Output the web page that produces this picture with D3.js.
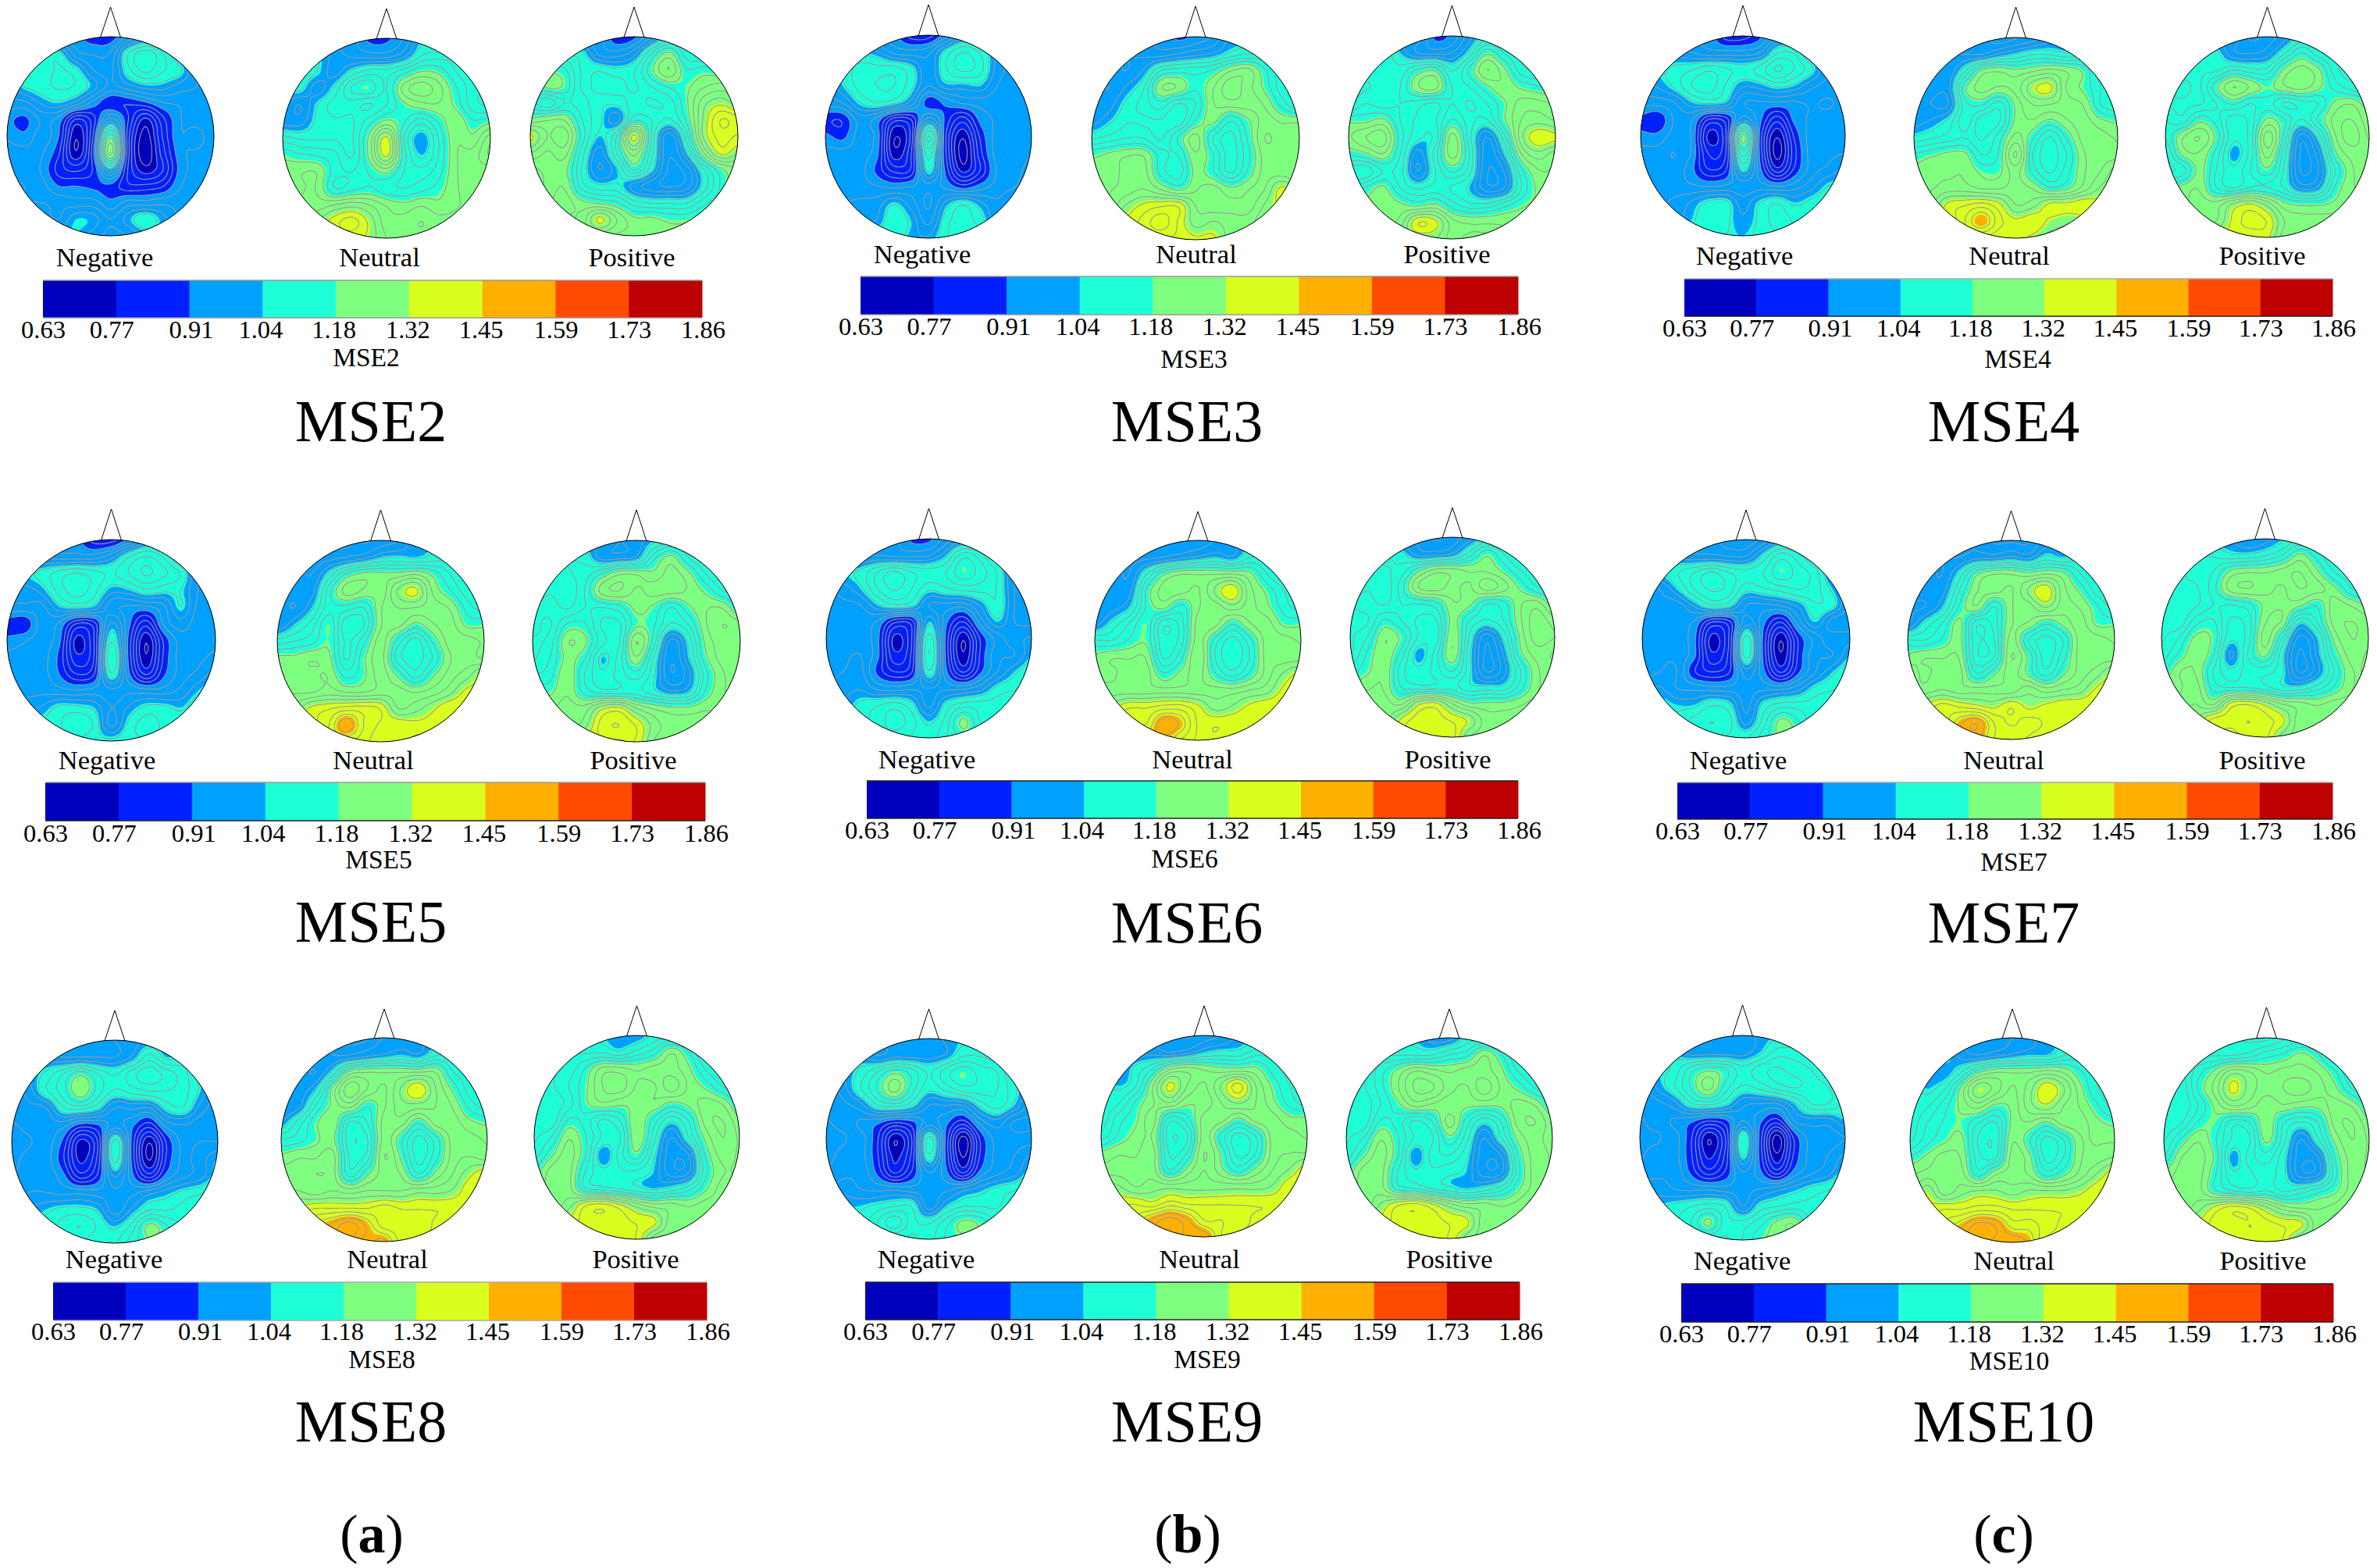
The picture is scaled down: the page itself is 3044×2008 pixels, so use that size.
<!DOCTYPE html>
<html><head><meta charset="utf-8">
<script src="https://d3js.org/d3.v7.min.js"></script>
<style>html,body{margin:0;padding:0;background:#fff}svg{display:block}text{font-family:"Liberation Serif",serif;fill:#000}</style>
</head><body><svg id="c" width="3044" height="2008"></svg>
<script>
// Band edges and colour-bar labels
const bandEdges=[0.63,0.77,0.91,1.04,1.18,1.32,1.45,1.59,1.73,1.86];
const tickLabels=["0.63","0.77","0.91","1.04","1.18","1.32","1.45","1.59","1.73","1.86"];
const bandColors=["#0000bd","#0020ff","#00a0ff","#1effd8","#7fff7f","#d8ff1e","#ffb000","#ff4a00","#bd0000"];
const conditions=["Negative","Neutral","Positive"];
const panelNames=["MSE2","MSE3","MSE4","MSE5","MSE6","MSE7","MSE8","MSE9","MSE10"];

// Scalp values (x100) on a 13x13 lattice; rows are centred, outer rows cover only the head
const mse2Negative=[[92,89,89,95,100],[106,106,96,94,95,108,114,109,100],[106,106,109,106,98,97,107,113,109,106,98],
[100,105,107,109,108,103,97,100,103,103,100,98,97],[97,97,102,104,100,93,88,88,90,94,95,96,97],[92,90,95,93,80,86,100,88,76,86,94,96,97],
[94,92,96,91,74,88,118,86,72,84,94,93,97],[96,96,95,88,74,90,124,86,71,82,93,95,96],[97,97,94,86,83,88,104,84,75,80,92,96,97],
[98,98,96,91,91,90,90,85,85,87,94,97,98],[98,98,97,96,96,92,96,96,97,97,98],[100,98,104,103,98,103,108,103,98],[104,100,97,98,102]];
const mse2Neutral=[[96,90,90,95,104],[104,100,97,96,96,100,108,110,110],[108,105,100,106,110,110,114,119,118,112,110],
[106,106,100,106,116,118,112,124,128,124,116,110,108],[102,98,105,110,110,108,112,118,121,122,118,110,108],[100,100,106,108,108,114,120,116,110,116,122,116,118],
[110,108,108,108,108,120,134,112,102,112,122,120,128],[118,116,115,113,108,120,134,114,104,112,122,124,130],[120,122,122,114,112,116,120,112,110,114,122,124,124],
[120,122,122,112,114,116,113,112,114,117,122,124,124],[124,124,126,128,126,122,120,122,120,122,124],[130,135,138,132,124,124,126,124,124],[134,132,126,126,125]];
const mse2Positive=[[96,88,90,98,106],[108,106,97,96,100,112,120,110,108],[118,116,108,108,106,108,118,126,116,117,116],
[112,120,118,108,110,110,108,112,116,118,122,124,122],[110,106,112,110,106,106,110,108,110,118,128,132,128],[120,122,122,112,106,100,114,112,108,116,130,140,138],
[134,126,128,114,104,112,134,112,96,110,130,138,136],[126,122,124,110,100,112,124,110,95,104,122,134,130],[118,120,120,108,98,104,116,106,94,96,108,118,122],
[116,120,122,110,106,106,100,96,94,96,106,116,122],[122,124,120,118,116,110,108,108,108,114,118],[122,124,134,126,120,120,118,118,120],[124,122,122,122,120]];
const mse3Negative=[[92,86,86,93,100],[104,102,97,96,97,106,112,108,101],[106,110,110,110,106,99,108,113,110,100,97],
[98,104,110,112,112,106,98,103,103,104,98,97,97],[96,98,105,108,106,100,89,92,95,96,96,96,97],[88,88,96,93,82,84,100,90,82,92,95,96,97],
[92,90,96,93,74,82,116,88,74,88,96,96,97],[96,96,96,92,75,84,110,88,72,86,96,96,98],[97,97,96,90,83,85,106,90,76,84,95,97,99],
[97,97,96,95,94,95,96,94,90,93,96,98,100],[98,99,100,105,100,94,103,108,103,99,103],[100,102,108,104,97,107,110,107,100],[108,103,102,108,110]];
const mse3Neutral=[[94,90,92,95,102],[98,97,96,98,100,102,106,108,108],[100,98,102,112,114,114,116,122,124,116,110],
[100,98,102,108,122,122,116,122,128,124,118,110,108],[98,100,106,110,114,108,112,122,124,124,122,114,108],[100,104,108,108,108,106,116,120,112,118,124,122,122],
[108,110,112,112,108,116,124,112,107,116,126,124,124],[118,120,122,122,114,112,122,116,107,114,124,124,126],[120,120,124,124,114,110,120,116,108,116,124,124,122],
[120,122,124,126,122,118,122,124,120,122,126,134,128],[124,130,134,136,136,126,124,124,124,130,134],[134,138,142,136,128,130,128,128,132],[136,136,134,134,128]];
const mse3Positive=[[100,90,92,100,106],[110,104,98,97,98,106,118,112,108],[110,112,110,116,118,108,116,126,120,110,108],
[106,108,110,112,122,124,112,112,118,122,118,116,114],[108,112,110,112,110,108,112,108,112,118,124,124,122],[118,118,120,112,108,108,116,110,108,118,126,128,126],
[122,126,128,114,106,106,124,110,98,110,128,136,134],[116,118,122,112,100,110,124,112,96,104,122,128,124],[106,106,112,110,98,108,116,110,95,98,114,122,122],
[112,116,120,112,108,110,108,104,96,98,112,120,122],[120,122,120,118,120,114,110,110,114,118,120],[122,124,136,134,124,122,122,122,122],[130,130,124,122,122]];
const mse4Negative=[[93,86,86,90,98],[100,98,96,96,96,98,108,108,100],[104,106,108,111,109,107,110,116,112,106,98],
[100,102,106,112,114,108,102,103,106,104,99,97,97],[96,96,98,104,106,104,95,94,94,94,95,94,96],[90,88,95,95,84,86,100,92,82,92,95,96,97],
[92,92,96,94,76,84,120,90,74,88,96,96,98],[96,96,98,94,80,84,114,90,72,86,96,97,98],[97,97,97,92,84,87,106,92,78,88,96,99,102],
[97,97,96,95,94,95,96,96,94,96,100,105,106],[97,99,102,106,106,100,105,108,104,106,108],[100,104,108,106,102,106,110,108,106],[106,105,104,106,108]];
const mse4Neutral=[[96,92,94,96,100],[98,98,98,102,105,108,108,106,108],[100,99,108,120,122,120,122,124,122,118,110],
[102,100,100,118,124,122,124,132,134,122,118,112,108],[100,98,98,114,116,110,120,126,126,124,122,112,108],[100,102,106,114,106,108,120,122,118,122,124,120,118],
[106,108,110,112,108,114,124,116,108,116,124,124,122],[116,118,120,120,112,116,130,112,107,112,122,124,124],[120,122,122,122,118,118,124,114,108,114,122,126,132],
[120,122,124,124,122,122,124,122,116,118,124,130,132],[126,134,136,138,134,126,128,134,134,136,134],[134,140,147,138,134,136,132,130,130],[136,134,134,132,128]];
const mse4Positive=[[100,94,96,100,106],[108,106,99,98,100,108,116,110,108],[106,108,108,112,110,110,120,124,120,110,106],
[108,110,108,118,126,122,118,122,124,120,114,110,108],[108,108,108,112,116,112,114,108,110,112,120,122,116],[112,110,118,114,106,110,120,116,108,116,124,126,120],
[112,122,126,118,106,110,128,114,96,106,122,128,122],[108,120,122,114,103,110,124,110,94,100,118,124,124],[108,110,120,112,106,112,118,108,94,98,112,122,124],
[116,120,122,112,108,112,112,108,100,102,116,122,124],[122,124,124,130,133,128,120,118,118,120,122],[124,126,134,138,136,126,124,124,124],[134,134,134,124,124]];
const mse5Negative=[[92,86,86,92,100],[97,96,96,96,100,108,112,108,100],[104,106,110,112,110,108,112,116,113,108,98],
[100,100,103,110,114,110,103,104,108,106,105,98,97],[97,97,97,104,106,104,96,94,94,97,105,97,97],[89,88,96,94,84,86,102,92,82,95,100,96,96],
[92,94,96,92,76,84,108,90,74,88,96,96,97],[96,96,96,90,78,84,112,90,74,88,96,97,99],[97,97,96,91,84,87,108,92,80,90,96,99,103],
[97,97,97,96,95,96,97,97,96,96,99,104,108],[100,102,106,106,104,98,102,106,106,104,108],[106,108,112,108,97,106,110,108,108],[108,106,106,108,108]];
const mse5Neutral=[[100,94,96,98,104],[96,97,98,100,104,105,104,106,108],[100,98,106,116,120,120,120,122,118,112,108],
[100,100,100,114,124,122,120,130,134,122,116,110,108],[100,98,104,114,114,112,122,126,126,124,122,114,110],[98,104,110,118,106,108,122,124,118,122,124,118,118],
[110,112,114,118,108,114,124,114,107,116,124,124,122],[120,120,122,120,108,118,124,110,107,112,122,124,122],[122,122,122,122,114,118,124,118,110,118,124,128,134],
[122,122,122,124,122,122,124,124,122,124,128,134,134],[128,134,136,138,138,136,126,128,132,136,136],[136,140,150,140,136,136,134,134,132],[140,138,134,134,132]];
const mse5Positive=[[102,98,100,104,108],[108,107,100,100,102,114,120,112,108],[106,108,110,116,122,122,120,124,120,112,108],
[106,108,106,112,124,126,122,124,124,122,118,112,110],[108,110,108,112,112,114,120,118,112,118,122,122,114],[110,108,116,116,108,108,118,116,108,112,122,126,124],
[108,110,122,120,110,108,126,114,97,106,120,124,124],[108,112,120,116,104,110,122,108,95,104,118,124,124],[112,114,122,112,106,110,114,106,95,100,114,122,124],
[118,118,122,114,110,110,110,106,102,104,116,122,124],[122,124,124,132,134,126,122,120,120,122,122],[124,128,138,140,136,128,124,124,124],[136,136,136,126,124]];
const mse6Negative=[[96,90,90,96,100],[97,98,97,97,98,104,114,110,102],[104,106,112,116,112,110,112,118,114,108,98],
[98,100,104,112,116,112,106,108,110,110,108,98,96],[96,97,98,104,108,106,98,97,96,102,108,98,96],[95,96,96,94,85,86,104,92,84,96,104,98,97],
[96,95,96,92,76,84,110,90,74,88,96,100,102],[96,97,98,92,78,85,112,90,74,88,97,98,104],[97,98,99,90,84,87,108,92,80,90,98,104,108],
[98,100,101,97,96,97,98,97,97,100,106,108,110],[102,106,108,110,106,97,106,110,110,110,112],[108,110,114,110,104,110,120,112,110],[110,108,106,112,116]];
const mse6Neutral=[[98,96,96,98,102],[97,97,98,100,102,104,102,108,108],[100,98,108,118,122,122,122,122,120,112,108],
[100,100,100,116,124,124,122,130,136,124,118,112,108],[98,100,104,116,120,114,122,124,128,124,120,114,110],[100,106,112,118,106,110,124,124,116,122,124,118,118],
[112,112,116,118,106,110,124,114,107,114,124,124,122],[120,122,122,122,108,114,126,112,106,112,124,124,124],[122,122,124,124,116,120,124,116,110,116,124,130,134],
[124,124,124,124,124,124,124,124,124,126,128,134,136],[132,136,136,138,138,134,128,130,134,136,136],[140,140,150,146,136,136,136,136,134],[146,140,136,136,134]];
const mse6Positive=[[98,94,96,100,106],[108,106,100,100,102,110,118,112,106],[106,108,110,118,124,124,122,122,118,112,108],
[106,108,106,114,126,128,124,122,128,124,118,112,110],[108,110,108,112,112,114,122,120,112,114,122,124,116],[108,108,116,112,108,108,120,112,108,112,122,128,124],
[108,112,122,118,108,106,122,108,96,106,120,128,126],[108,116,122,114,103,110,122,106,94,102,118,124,122],[114,118,122,110,106,110,116,106,94,100,112,122,124],
[120,122,122,112,110,110,110,106,106,106,114,122,124],[124,124,122,132,134,126,120,120,120,122,124],[124,134,138,138,136,132,124,124,124],[136,138,138,126,124]];
const mse7Negative=[[96,92,92,96,102],[100,99,99,98,98,106,114,110,104],[104,108,112,116,112,110,112,118,114,110,100],
[96,98,104,112,116,114,106,108,110,112,110,104,97],[96,97,96,102,108,106,98,97,98,102,108,106,97],[95,96,96,94,84,86,100,92,84,96,104,96,96],
[96,95,96,92,76,84,110,90,74,88,96,100,100],[96,97,97,92,78,85,110,90,74,88,97,98,104],[96,98,98,88,84,87,100,92,80,90,98,104,108],
[100,102,98,97,96,96,97,97,97,100,106,108,110],[106,104,104,108,106,97,106,110,110,110,112],[106,110,112,110,100,110,120,116,110],[110,108,108,114,120]];
const mse7Neutral=[[98,94,94,94,100],[98,98,100,100,102,100,106,104,108],[100,98,106,118,122,122,120,122,120,112,108],
[100,100,100,112,122,124,122,130,136,124,118,110,108],[98,98,104,116,122,112,122,124,130,124,122,116,110],[98,106,112,120,106,110,122,122,116,120,124,118,118],
[112,112,116,120,106,108,124,112,107,112,124,124,122],[120,122,122,122,106,108,126,118,107,114,124,124,124],[124,122,124,124,112,118,124,118,110,118,124,128,134],
[124,124,126,124,124,124,124,128,124,126,128,134,136],[134,138,136,134,132,136,132,134,136,136,136],[138,146,150,140,136,138,136,134,132],[148,140,140,136,134]];
const mse7Positive=[[102,98,100,104,108],[108,108,106,106,108,112,120,114,108],[108,110,112,120,122,122,124,126,120,112,110],
[108,108,108,114,124,126,124,122,126,124,120,112,110],[108,106,108,112,112,114,120,122,120,116,124,122,118],[108,106,114,116,108,110,122,122,106,112,124,126,124],
[108,112,120,118,106,110,124,112,97,104,120,126,124],[110,116,122,116,101,112,120,106,94,102,116,124,122],[114,122,122,112,106,110,110,106,94,100,112,122,122],
[122,122,124,114,112,112,110,106,106,110,116,122,124],[124,126,122,134,136,132,126,124,122,124,124],[130,138,138,140,138,134,124,124,124],[134,138,138,128,124]];
const mse8Negative=[[98,98,98,100,102],[100,98,98,98,98,102,110,104,106],[102,106,112,118,112,108,114,118,114,110,104],
[96,100,108,114,122,114,108,110,112,112,110,104,96],[96,97,98,108,110,106,98,99,98,106,108,100,96],[94,96,96,96,90,91,96,92,86,96,98,96,95],
[92,94,96,90,76,84,110,90,74,88,96,98,98],[93,96,96,88,76,85,110,90,73,88,96,100,104],[94,97,97,92,82,88,102,92,82,92,97,100,106],
[96,98,98,97,97,96,97,97,100,103,106,108,110],[102,104,106,106,104,96,102,108,108,110,112],[106,110,112,108,104,110,120,116,112],[108,106,108,114,118]];
const mse8Neutral=[[100,98,98,100,102],[102,98,98,100,102,104,102,108,108],[100,98,106,120,122,122,122,122,122,112,110],
[100,100,104,120,132,126,122,130,136,126,118,110,108],[98,100,112,120,124,116,122,128,128,126,122,114,110],[102,110,118,122,108,112,124,124,116,124,124,120,118],
[112,114,118,120,106,108,124,116,107,114,124,124,122],[120,122,122,124,108,110,126,118,107,114,124,126,124],[124,124,126,124,110,118,124,122,112,120,126,132,136],
[126,126,124,126,124,126,126,126,128,128,130,136,136],[134,136,136,136,136,138,136,136,136,136,136],[144,148,152,146,138,138,138,136,134],[150,146,148,138,136]];
const mse8Positive=[[104,102,102,106,108],[108,108,108,106,110,114,122,116,108],[108,110,116,124,124,122,124,124,120,112,108],
[108,108,112,118,126,128,122,122,128,122,118,112,108],[106,106,110,118,122,120,120,122,118,120,124,122,114],[108,106,116,114,108,112,122,114,106,112,124,126,120],
[108,112,122,116,108,108,122,110,98,108,120,126,122],[110,118,124,116,102,110,118,106,96,98,116,124,122],[116,124,124,112,106,108,108,104,96,97,114,122,122],
[120,124,124,112,110,108,106,104,106,110,118,124,124],[124,128,136,138,134,128,124,124,122,124,124],[134,138,138,138,136,134,124,124,124],[136,138,136,124,122]];
const mse9Negative=[[100,100,100,102,104],[102,98,100,100,100,102,108,108,106],[102,106,112,118,114,108,114,118,114,112,104],
[96,100,108,116,124,114,106,110,114,114,112,106,100],[96,97,100,108,110,106,98,98,98,106,110,104,96],[94,96,94,92,88,90,96,92,86,96,100,94,94],
[92,94,96,88,74,84,110,90,72,88,96,96,96],[93,96,96,88,76,85,108,90,73,88,96,98,102],[95,97,97,90,80,88,98,92,80,92,97,100,106],
[98,100,98,97,97,96,97,97,100,103,106,108,110],[104,104,106,108,108,96,104,108,108,108,112],[106,112,118,110,108,114,120,118,112],[108,108,110,116,118]];
const mse9Neutral=[[98,94,96,98,102],[100,100,98,100,104,106,106,110,110],[100,106,112,122,124,122,120,120,120,114,110],
[108,104,108,122,134,126,122,130,138,126,118,112,108],[106,108,116,122,126,120,120,126,130,126,120,114,110],[106,114,118,124,110,114,124,124,118,124,124,120,120],
[110,116,120,122,106,108,124,114,107,112,124,124,122],[120,122,122,124,108,112,126,118,107,112,124,126,126],[124,124,124,124,112,120,126,120,114,120,126,130,136],
[132,130,126,128,128,128,128,128,128,128,130,136,136],[136,136,134,138,136,136,136,136,136,136,136],[142,148,152,148,140,140,138,136,136],[152,150,150,140,136]];
const mse9Positive=[[104,100,100,106,108],[108,108,108,108,112,114,122,116,108],[108,114,120,126,124,122,124,124,120,112,108],
[108,108,114,122,130,130,124,122,128,122,118,112,108],[106,106,112,118,124,122,120,120,120,120,124,122,114],[108,106,116,114,108,112,124,114,106,112,124,126,120],
[108,112,122,116,108,108,118,110,98,108,120,124,120],[110,118,124,116,102,110,112,106,96,98,116,124,122],[116,124,124,112,106,108,106,104,96,97,114,124,122],
[120,124,124,114,112,108,106,104,106,110,118,124,124],[124,130,136,138,134,128,124,124,122,124,128],[134,138,138,138,136,134,124,124,126],[136,138,136,128,124]];
const mse10Negative=[[100,100,100,102,104],[104,100,100,100,100,104,110,110,108],[104,106,114,118,116,110,114,116,114,112,108],
[96,102,108,116,124,114,108,110,114,116,114,112,108],[96,97,100,108,110,106,99,98,98,104,112,112,108],[94,96,94,92,88,90,98,92,86,98,100,100,104],
[94,94,96,88,74,84,108,90,72,88,96,96,98],[94,96,96,88,76,85,106,90,74,88,96,98,102],[96,97,97,90,82,88,98,92,82,92,97,100,106],
[100,100,98,97,97,96,97,98,100,103,106,108,110],[104,106,108,110,108,98,106,108,110,110,112],[108,112,120,110,110,114,120,122,112],[108,108,112,118,120]];
const mse10Neutral=[[98,96,98,100,104],[106,100,98,100,102,104,104,108,110],[104,102,108,118,122,122,122,124,122,116,112],
[108,104,108,120,132,128,122,128,136,130,120,112,110],[106,108,114,120,124,118,120,128,132,126,122,116,110],[106,112,116,118,112,108,120,122,118,124,124,120,118],
[108,114,118,120,108,106,122,116,107,112,122,122,122],[116,120,124,122,110,108,124,120,107,112,122,124,126],[122,124,124,124,114,122,124,122,114,118,124,130,136],
[124,132,124,128,130,130,128,130,130,130,132,136,136],[134,136,136,138,138,136,136,136,136,136,136],[142,146,152,150,142,142,138,136,136],[152,150,150,146,136]];
const mse10Positive=[[106,104,104,108,110],[108,108,108,110,114,116,120,116,108],[108,114,120,128,126,122,124,124,122,116,108],
[110,106,116,124,134,128,124,126,128,124,120,112,108],[108,106,112,120,126,124,120,122,120,120,124,122,114],[106,108,116,118,110,112,122,112,108,112,124,126,120],
[108,116,122,116,108,108,120,110,98,108,120,126,122],[112,122,124,118,103,110,114,106,96,98,116,124,122],[120,124,124,116,106,108,110,106,96,97,114,124,122],
[122,124,124,116,112,110,112,108,110,114,118,124,124],[124,128,134,138,136,130,124,122,122,124,128],[134,138,138,140,138,136,134,124,128],[136,138,138,136,124]];

const fields=[[mse2Negative,mse2Neutral,mse2Positive],[mse3Negative,mse3Neutral,mse3Positive],[mse4Negative,mse4Neutral,mse4Positive],
[mse5Negative,mse5Neutral,mse5Positive],[mse6Negative,mse6Neutral,mse6Positive],[mse7Negative,mse7Neutral,mse7Positive],
[mse8Negative,mse8Neutral,mse8Positive],[mse9Negative,mse9Neutral,mse9Positive],[mse10Negative,mse10Neutral,mse10Positive]];

// ---------- layout (pixels) ----------
const headBoxes=[ // left,right,top,bottom,noseTip
[[9,274,47,302,9],[362,628,49,305,11],[679,945,47,302,9]],
[[1057,1321,45,305,6],[1398,1664,47,307,8],[1727,1992,46,306,7]],
[[2101,2363,46,302,7],[2451,2712,48,305,9],[2773,3034,47,304,9]],
[[9,276,691,949,652],[355,620,692,950,653],[682,948,692,950,653]],
[[1058,1321,690,945,651],[1402,1666,692,948,655],[1729,1991,688,944,650]],
[[2103,2369,691,945,653],[2443,2708,692,947,654],[2768,3033,690,944,651]],
[[15,279,1332,1592,1294],[360,624,1329,1590,1292],[684,947,1326,1587,1288]],
[[1058,1321,1330,1587,1292],[1410,1674,1326,1584,1288],[1724,1988,1329,1586,1292]],
[[2100,2363,1326,1588,1287],[2446,2708,1329,1591,1292],[2771,3034,1329,1590,1290]]];
const barBoxes=[[55,899,359,407],[1102,1944,354,403],[2157,2987,357,405],[58,903,1002,1051],[1110,1944,1000,1048],[2148,2987,1002,1049],[68,905,1642,1691],[1108,1946,1642,1690],[2153,2988,1644,1693]];
const barEdgeColors=[["#999","#999"],["#999","#999"],["#aaa","#222"],["#999","#222"],["#222","#222"],["#aaa","#222"],["#aaa","#aaa"],["#222","#222"],["#222","#222"]];
const labelCenters=[[134,486,809],[1181,1532,1853],[2234,2573,2897],[137,478,811],[1187,1527,1854],[2226,2566,2897],[146,496,814],[1186,1536,1856],[2231,2579,2898]];
const labelBase=[341,337,339,985,984,985,1624,1624,1626];
const tickBase=[433,429,431,1078,1074,1075,1716,1716,1719];
const smallTitle=[[469,469],[1529,471],[2584,471],[485,1112],[1517,1111],[2579,1115],[489,1752],[1546,1752],[2573,1754]];
const bigTitle=[[475,565],[1520,565],[2566,565],[475,1206],[1520,1207],[2566,1207],[475,1846],[1520,1846],[2566,1846]];
const captions=[["a",476,1988],["b",1521,1988],["c",2566,1988]];
const tickNudge=[0,-6,2,-3,-3,-2,-2,0,0,1];

// ---------- helpers ----------
const N=13, UP=8, M=(N-1)*UP+1;
function padRows(rows){return rows.map(r=>{const k=Math.floor((N-r.length)/2);
  return d3.range(N).map(i=>r[Math.max(0,Math.min(r.length-1,i-k))]);});}
function cr(a,b,c,d,t){return 0.5*(2*b+(c-a)*t+(2*a-5*b+4*c-d)*t*t+(3*b-a-3*c+d)*t*t*t);}
function upsample(g){ // smooth the lattice for drawing
  const at=(j,i)=>g[Math.max(0,Math.min(N-1,j))][Math.max(0,Math.min(N-1,i))];
  const out=new Float64Array(M*M);
  for(let y=0;y<M;y++){const fy=y/UP,j=Math.min(N-2,Math.floor(fy)),ty=fy-j;
    for(let x=0;x<M;x++){const fx=x/UP,i=Math.min(N-2,Math.floor(fx)),tx=fx-i;
      const r=[-1,0,1,2].map(d=>cr(at(j+d,i-1),at(j+d,i),at(j+d,i+1),at(j+d,i+2),tx));
      out[y*M+x]=cr(r[0],r[1],r[2],r[3],ty)/100;}}
  return out;}

const svg=d3.select("#c");
const defs=svg.append("defs");
const contours=d3.contours().size([M,M]);
const lineLevels=d3.range(0.63,1.86,0.035);

headBoxes.forEach((boxes,p)=>{
  const G=svg.append("g");
  boxes.forEach(([l,r,t,b,tip],k)=>{
    const x=d3.scaleLinear().domain([0.5,M-0.5]).range([l,r]);
    const y=d3.scaleLinear().domain([0.5,M-0.5]).range([t,b]);
    const path=d3.geoPath(d3.geoTransform({point(a,c){this.stream.point(x(a),y(c));}}));
    const vals=upsample(padRows(fields[p][k]));
    const id=`h${p}_${k}`;
    const cx=(l+r)/2,cy=(t+b)/2,rx=(r-l)/2,ry=(b-t)/2;
    defs.append("clipPath").attr("id",id).append("ellipse").attr("cx",cx).attr("cy",cy).attr("rx",rx).attr("ry",ry);
    const H=G.append("g");
    const C=H.append("g").attr("clip-path",`url(#${id})`);
    const levels=[-10].concat(bandEdges.slice(1,9));
    levels.forEach((lv,i)=>{
      C.append("path").attr("d",path(contours.contour(vals,lv))).attr("fill",bandColors[i]);
    });
    lineLevels.forEach(lv=>{
      C.append("path").attr("d",path(contours.contour(vals,lv))).attr("fill","none").attr("stroke","#9a9a9a").attr("stroke-width",1.1);
    });
    H.append("ellipse").attr("cx",cx).attr("cy",cy).attr("rx",rx).attr("ry",ry).attr("fill","none").attr("stroke","#000").attr("stroke-width",1);
    H.append("path").attr("d",d3.line()([[cx-13,t+1],[cx,tip],[cx+13,t+1]])).attr("fill","none").attr("stroke","#000").attr("stroke-width",1);
    H.append("text").attr("x",labelCenters[p][k]).attr("y",labelBase[p]).attr("text-anchor","middle").attr("font-size",34.5).text(conditions[k]);
  });
  // colour bar
  const [x0,x1,y0,y1]=barBoxes[p];
  const bx=d3.scaleLinear().domain([0,9]).range([x0,x1]);
  G.selectAll(null).data(bandColors).join("rect").attr("x",(d,i)=>bx(i)).attr("y",y0).attr("width",(d,i)=>bx(i+1)-bx(i)+0.5).attr("height",y1-y0).attr("fill",d=>d);
  G.append("line").attr("x1",x0).attr("x2",x1).attr("y1",y0).attr("y2",y0).attr("stroke",barEdgeColors[p][0]).attr("stroke-width",1.5);
  G.append("line").attr("x1",x0).attr("x2",x1).attr("y1",y1).attr("y2",y1).attr("stroke",barEdgeColors[p][1]).attr("stroke-width",1.5);
  const ax=G.append("g").attr("transform",`translate(0,${tickBase[p]})`)
    .call(d3.axisBottom(bx).tickValues(d3.range(10)).tickFormat(i=>tickLabels[i]).tickSize(0));
  ax.select(".domain").remove();
  ax.selectAll("text").attr("y",0).attr("dy",0).attr("dx",i=>tickNudge[i]).attr("font-size",32.5).attr("font-family","Liberation Serif").attr("fill","#000");
  G.append("text").attr("x",smallTitle[p][0]).attr("y",smallTitle[p][1]).attr("text-anchor","middle").attr("font-size",33.5).text(panelNames[p]);
  G.append("text").attr("x",bigTitle[p][0]).attr("y",bigTitle[p][1]).attr("text-anchor","middle").attr("font-size",76).text(panelNames[p]);
});
captions.forEach(([t,x,y])=>{
  const T=svg.append("text").attr("x",x).attr("y",y).attr("text-anchor","middle").attr("font-size",70);
  T.append("tspan").text("(");
  T.append("tspan").attr("font-weight","bold").text(t);
  T.append("tspan").text(")");
});
</script></body></html>
